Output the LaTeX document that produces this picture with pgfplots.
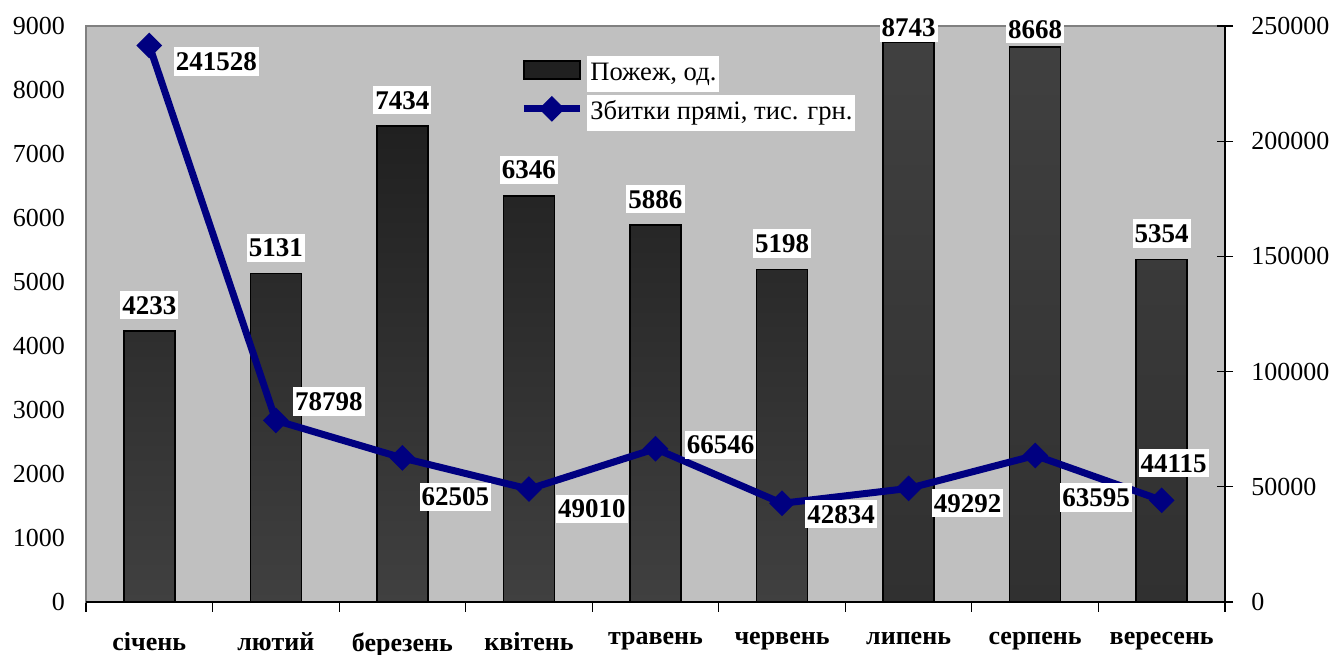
\documentclass[border=0pt]{standalone}
\usepackage{fontspec}
\setmainfont{Liberation Serif}
\usepackage{pgfplots}
\usepackage{pgfplotstable}
\pgfplotsset{compat=1.18}

\definecolor{plotbg}{HTML}{C0C0C0}
\definecolor{bardark}{HTML}{202020}
\definecolor{barmid}{HTML}{404040}
\definecolor{barlow}{HTML}{303030}
\definecolor{lossline}{HTML}{000080}
\definecolor{framegray}{HTML}{808080}

% пожежі по місяцях, dy - зсув підпису над стовпчиком (pt)
\pgfplotstableread{
x fires dy
0 4233 5.5
1 5131 5.5
2 7434 5.5
3 6346 5.5
4 5886 5.5
5 5198 5.5
6 8743 0
7 8668 1.5
8 5354 5.5
}\firesdata

% збитки, dx/dy - положення підпису відносно точки (pt)
\pgfplotstableread{
x loss dx dy
0 241528 33.5 -8
1 78798 26.5 9.5
2 62505 26.5 -19.5
3 49010 31.5 -10
4 66546 32.5 2
5 42834 29.5 -5.5
6 49292 29.5 -7.5
7 63595 30.5 -21
8 44115 6 18.5
}\lossdata

\newcommand{\numfont}{\fontsize{13}{15}\selectfont}
\newcommand{\lblfont}{\fontsize{13.5}{16}\selectfont\bfseries}
\newcommand{\lgd}[1]{{\setlength{\fboxsep}{1.5pt}\colorbox{white}{\strut #1}}}

\tikzset{
  lbl/.style={font=\lblfont, text=black, fill=white, inner xsep=1pt, inner ysep=2.5pt},
}
\pgfplotsset{
  barlegend/.style={legend image code/.code={\draw[black, line width=0.8pt, fill=bardark] (0pt,-4.5pt) rectangle (28pt,4.5pt);}},
  linelegend/.style={legend image code/.code={\draw[##1, mark repeat=2, mark phase=2] plot coordinates {(0pt,0pt) (14pt,0pt) (28pt,0pt)};}},
}

\begin{document}
\begin{tikzpicture}
\begin{axis}[
  name=main,
  scale only axis, width=569.5pt, height=288pt,
  xmin=-0.5, xmax=8.5, ymin=0, ymax=9000,
  ytick={0,1000,...,9000},
  xtick={0,...,8},
  xticklabels={січень,лютий,березень,квітень,травень,червень,липень,серпень,вересень},
  minor xtick={-0.5,0.5,...,8.5},
  xtick pos=bottom, ytick pos=left,
  xtick align=outside,
  major x tick style={draw=none},
  minor x tick style={black, line width=0.6pt},
  minor tick length=5pt,
  ytick style={draw=none},
  axis line style={framegray, line width=0.8pt},
  axis background/.style={fill=plotbg},
  tick label style={font=\numfont},
  x tick label style={font=\numfont\bfseries, yshift=-7.5pt},
  y tick label style={xshift=-7pt},
  /pgf/number format/assume math mode=true,
  /pgf/number format/1000 sep={},
]
\addplot[ybar, bar shift=0pt, bar width=25.5pt, draw=black, line width=0.8pt,
  top color=bardark, middle color=bardark, bottom color=barmid,
  restrict x to domain=-1:5.5,
  nodes near coords, point meta=explicit symbolic,
  visualization depends on={\thisrow{dy}\as\lbldy},
  every node near coord/.append style={lbl, yshift=\lbldy pt}]
  table[x=x, y=fires, meta=fires] {\firesdata};
\addplot[ybar, bar shift=0pt, bar width=25.5pt, draw=black, line width=0.8pt,
  top color=barmid, middle color=barmid, bottom color=barlow,
  restrict x to domain=5.5:9,
  nodes near coords, point meta=explicit symbolic,
  visualization depends on={\thisrow{dy}\as\lbldy},
  every node near coord/.append style={lbl, yshift=\lbldy pt}]
  table[x=x, y=fires, meta=fires] {\firesdata};
\end{axis}

\begin{axis}[
  scale only axis, width=569.5pt, height=288pt,
  xmin=-0.5, xmax=8.5, ymin=0, ymax=250000,
  axis x line*=bottom, axis y line*=right,
  xtick=\empty,
  ytick={0,50000,...,250000},
  scaled y ticks=false,
  ytick align=center, major tick length=8pt,
  axis line style={black, line width=0.8pt, -},
  tick style={black, line width=0.6pt},
  tick label style={font=\numfont},
  y tick label style={xshift=5.7pt},
  /pgf/number format/assume math mode=true,
  /pgf/number format/fixed,
  /pgf/number format/precision=0,
  /pgf/number format/1000 sep={},
  legend cell align=left,
  legend style={at={(0.381,0.955)}, anchor=north west, draw=none, fill=none,
    font=\fontsize{13.3}{15}\selectfont, row sep=2pt, inner sep=0pt},
]
\addlegendimage{barlegend}
\addlegendentry{\lgd{Пожеж, од.}}
\addplot[lossline, line width=3.5pt, mark=square*, mark size=4.3pt,
  mark options={rotate=45, line width=0.5pt},
  nodes near coords, point meta=explicit symbolic,
  visualization depends on={\thisrow{dx}\as\lbldx},
  visualization depends on={\thisrow{dy}\as\lbldy},
  every node near coord/.append style={lbl, anchor=center, xshift=\lbldx pt, yshift=\lbldy pt},
  linelegend]
  table[x=x, y=loss, meta=loss] {\lossdata};
\addlegendentry{\lgd{Збитки прямі, тис. грн.}}
\end{axis}
\pgfresetboundingbox
\path ([shift={(-43pt,-26.5pt)}]main.south west) rectangle ([shift={(52.5pt,13pt)}]main.north east);
\end{tikzpicture}
\end{document}
